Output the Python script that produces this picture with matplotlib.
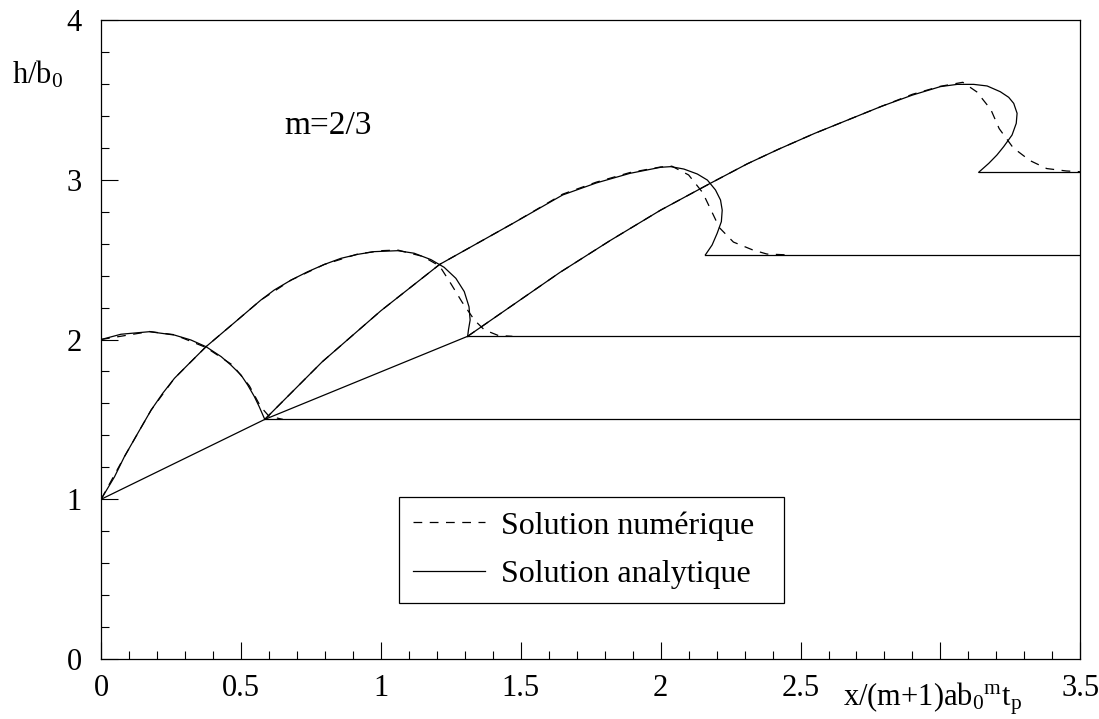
import numpy as np
import matplotlib.pyplot as plt
from matplotlib.ticker import MultipleLocator

plt.rcParams['font.family'] = ['Liberation Serif', 'DejaVu Serif']
plt.rcParams['mathtext.fontset'] = 'custom'
plt.rcParams['mathtext.rm'] = 'Liberation Serif'
plt.rcParams['mathtext.it'] = 'Liberation Serif'

# --- analytic solution (solid) ---
# first hump, starting at h=2 on the axis
hump0_x = [0.0, 0.071, 0.173, 0.262, 0.321, 0.375, 0.429, 0.464, 0.50, 0.524, 0.548, 0.565, 0.585]
hump0_y = [2.0, 2.033, 2.049, 2.028, 1.997, 1.955, 1.893, 1.84, 1.778, 1.715, 1.642, 1.58, 1.5]

hump1_x = [0.0, 0.048, 0.083, 0.131, 0.179, 0.22, 0.262, 0.321, 0.375, 0.476, 0.571,
           0.619, 0.679, 0.738, 0.798, 0.857, 0.917, 0.976, 1.06,
           1.119, 1.179, 1.226, 1.268, 1.298, 1.315, 1.319, 1.313, 1.31]
hump1_y = [1.0, 1.141, 1.266, 1.413, 1.559, 1.663, 1.757, 1.861, 1.955, 2.105, 2.247,
           2.31, 2.372, 2.424, 2.47, 2.508, 2.533, 2.55, 2.556,
           2.54, 2.50, 2.452, 2.383, 2.30, 2.205, 2.122, 2.06, 2.018]

hump2_x = [0.585, 0.79, 1.0, 1.21, 1.475, 1.65, 1.77, 1.89, 2.0, 2.036,
           2.083, 2.131, 2.167, 2.196, 2.214, 2.22, 2.217, 2.202, 2.184, 2.16]
hump2_y = [1.5, 1.86, 2.18, 2.47, 2.73, 2.905, 2.98, 3.04, 3.078, 3.082,
           3.067, 3.036, 2.998, 2.936, 2.873, 2.81, 2.738, 2.665, 2.592, 2.53]

hump3_x = [1.31, 1.475, 1.64, 1.82, 2.0, 2.18, 2.31, 2.42, 2.55, 2.79, 2.90, 3.0, 3.06, 3.119,
           3.167, 3.214, 3.244, 3.262, 3.274, 3.271, 3.256, 3.226, 3.202, 3.173, 3.137]
hump3_y = [2.02, 2.22, 2.42, 2.62, 2.81, 2.98, 3.10, 3.19, 3.29, 3.46, 3.53, 3.583, 3.597, 3.597,
           3.587, 3.551, 3.516, 3.478, 3.416, 3.353, 3.28, 3.207, 3.155, 3.103, 3.047]

# straight shock paths between junctions
junction_x = [0.0, 0.585, 1.31]
junction_y = [1.0, 1.5, 2.02]

# plateaus behind each front
plateau_start = [0.585, 1.31, 2.16, 3.137]
plateau_level = [1.5, 2.02, 2.53, 3.047]

# --- numerical solution (dashed) ---
num0_x = [0.0, 0.173, 0.262, 0.375, 0.47, 0.53, 0.57, 0.60, 0.65]
num0_y = [2.0, 2.05, 2.03, 1.95, 1.84, 1.71, 1.58, 1.52, 1.5]

num1_x = [0.0, 0.083, 0.179, 0.262, 0.375, 0.476, 0.571, 0.679, 0.798, 0.917, 1.0, 1.06,
          1.15, 1.21, 1.25, 1.29, 1.335, 1.37, 1.42, 1.47]
num1_y = [1.0, 1.266, 1.559, 1.757, 1.955, 2.105, 2.247, 2.372, 2.47, 2.535, 2.556, 2.56,
          2.52, 2.46, 2.35, 2.235, 2.12, 2.06, 2.025, 2.02]

num2_x = [0.585, 0.79, 1.0, 1.21, 1.475, 1.65, 1.77, 1.89, 2.0, 2.04,
          2.10, 2.15, 2.18, 2.21, 2.26, 2.33, 2.38, 2.45]
num2_y = [1.5, 1.86, 2.18, 2.47, 2.73, 2.91, 2.985, 3.045, 3.08, 3.085,
          3.03, 2.92, 2.81, 2.70, 2.61, 2.56, 2.535, 2.53]

num3_x = [1.31, 1.475, 1.64, 1.82, 2.0, 2.18, 2.31, 2.42, 2.55, 2.79, 2.90, 3.0, 3.08,
          3.13, 3.18, 3.21, 3.26, 3.32, 3.38, 3.45, 3.5]
num3_y = [2.02, 2.22, 2.42, 2.62, 2.81, 2.98, 3.10, 3.19, 3.29, 3.46, 3.535, 3.585, 3.61,
          3.55, 3.44, 3.32, 3.20, 3.12, 3.07, 3.055, 3.05]

xtick_vals = [0, 0.5, 1, 1.5, 2, 2.5, 3, 3.5]
xtick_labels = ['0', '0.5', '1', '1.5', '2', '2.5', '', '3.5']
ytick_vals = [0, 1, 2, 3, 4]

fig = plt.figure(figsize=(10.99, 7.19), dpi=100)
ax = fig.add_axes([0.092, 0.0834, 0.891, 0.8888])

lw = 0.9
dash = (0, (7, 6))

# numerical
for xs, ys in [(num0_x, num0_y), (num1_x, num1_y), (num2_x, num2_y), (num3_x, num3_y)]:
    ax.plot(xs, ys, color='black', lw=lw, linestyle=dash)

# analytic
for xs, ys in [(hump0_x, hump0_y), (hump1_x, hump1_y), (hump2_x, hump2_y), (hump3_x, hump3_y)]:
    ax.plot(xs, ys, color='black', lw=lw)
ax.plot(junction_x, junction_y, color='black', lw=lw)
for xs, lev in zip(plateau_start, plateau_level):
    ax.plot([xs, 3.5], [lev, lev], color='black', lw=lw)

# legend proxies
ax.plot([], [], color='black', lw=lw, linestyle=dash, label='Solution numérique')
ax.plot([], [], color='black', lw=lw, label='Solution analytique')
leg = ax.legend(loc='upper left', bbox_to_anchor=(0.304, 0.094, 0.393, 0.16),
                mode='expand', borderaxespad=0,
                fontsize=23, frameon=True, fancybox=False, edgecolor='black',
                handlelength=2.25, handletextpad=0.5, labelspacing=0.6, borderpad=0.45,
                framealpha=1)
leg.get_frame().set_linewidth(0.9)

ax.set_xlim(0, 3.5)
ax.set_ylim(0, 4)
ax.set_xticks(xtick_vals)
ax.set_xticklabels(xtick_labels)
ax.set_yticks(ytick_vals)
ax.xaxis.set_minor_locator(MultipleLocator(0.1))
ax.yaxis.set_minor_locator(MultipleLocator(0.2))
ax.tick_params(which='both', direction='in', top=False, right=False, labelsize=22, width=0.8)
ax.tick_params(axis='x', which='major', length=12, pad=11)
ax.tick_params(axis='x', which='minor', length=6)
ax.tick_params(axis='y', which='major', length=12, pad=14)
ax.tick_params(axis='y', which='minor', length=6)
for s in ax.spines.values():
    s.set_linewidth(0.9)

ax.text(0.81, 3.34, 'm=2/3', fontsize=24, ha='center', va='center')
ax.text(-0.065, 0.914, r'h/b$_0$', fontsize=22, ha='center', va='center',
        transform=ax.transAxes)
ax.text(0.849, -0.062, r'x/(m+1)ab$_0$$^{\rm m}$t$_{\rm p}$', fontsize=22,
        ha='center', va='center', transform=ax.transAxes)

fig.savefig('out.png', dpi=100)
